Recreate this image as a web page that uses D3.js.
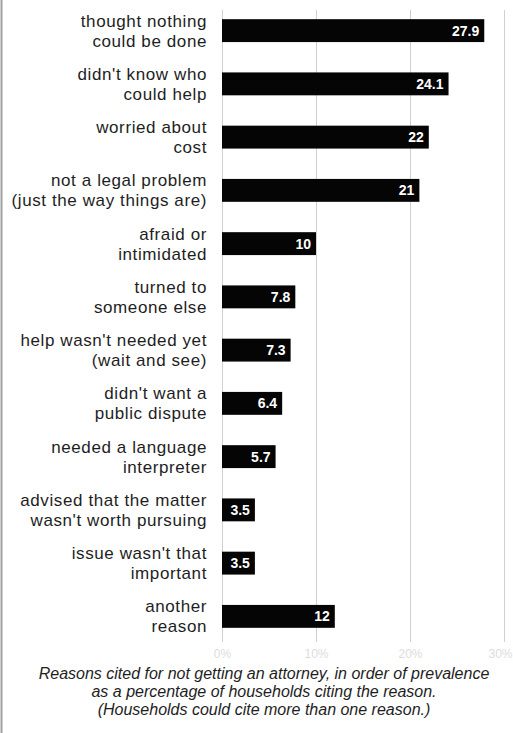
<!DOCTYPE html>
<html>
<head>
	<meta charset="UTF-8" />
	<title>reasons for not getting an attorney</title>
	<script src="https://d3js.org/d3.v7.min.js"></script>
	<style>
		body { margin: 0; background: #fff; }
	</style>
</head>
<body>
	<svg id="chart" style="width:513px; height:733px; display:block"></svg>

	<script type="text/javascript">
	// data
	var reasons = [
		["thought nothing", "could be done"],
		["didn't know who", "could help"],
		["worried about", "cost"],
		["not a legal problem", "(just the way things are)"],
		["afraid or", "intimidated"],
		["turned to", "someone else"],
		["help wasn't needed yet", "(wait and see)"],
		["didn't want a", "public dispute"],
		["needed a language", "interpreter"],
		["advised that the matter", "wasn't worth pursuing"],
		["issue wasn't that", "important"],
		["another", "reason"]
	]
	var percents = [27.9, 24.1, 22, 21, 10, 7.8, 7.3, 6.4, 5.7, 3.5, 3.5, 12]
	var valueLabels = ["27.9", "24.1", "22", "21", "10", "7.8", "7.3", "6.4", "5.7", "3.5", "3.5", "12"]
	var tickValues = [0, 10, 20, 30]
	var captionLines = [
		"Reasons cited for not getting an attorney, in order of prevalence",
		"as a  percentage of households citing the reason.",
		"(Households could cite more than one reason.)"
	]

	var rows = reasons.map((r,i)=>({key: i, lines: r, value: percents[i], label: valueLabels[i]}))

	var svg = d3.select("#chart")

	var xScale = d3.scaleLinear().domain([0,30]).range([222,504])
	var yScale = d3.scaleBand()
					.domain(rows.map(d=>d.key))
					.range([4,643])
					.paddingInner(0.57)
					.paddingOuter(0.285)

	// frame line on the left
	svg.append("line")
		.attr("x1", 1.5).attr("x2", 1.5)
		.attr("y1", 0).attr("y2", 733)
		.style("stroke", "#a0a0a0")
		.style("stroke-width", 2)

	// grid + ticks
	var xAxis = d3.axisBottom(xScale)
					.tickValues(tickValues)
					.tickSize(-632)
					.tickFormat(d=>d+"%")
	var gx = svg.append("g")
		.attr("transform", "translate(0,642)")
		.call(xAxis)
	gx.select(".domain").remove()
	gx.selectAll(".tick line").style("stroke", "#d0d0d0")
	gx.selectAll(".tick text")
		.attr("dy", "1.1em")
		.attr("text-anchor", d=>d==30 ? "end" : "middle")
		.attr("x", d=>d==30 ? 8 : 0)
		.style("fill", "#dcdcdc")
		.style("font-family", "Liberation Sans, Arial, sans-serif")
		.style("font-size", "12px")

	// bars
	var bar = svg.selectAll("g.bar")
		.data(rows)
		.enter()
		.append("g")
		.attr("class", "bar")

	bar.append("rect")
		.attr("x", xScale(0))
		.attr("y", d=>yScale(d.key))
		.attr("width", d=>xScale(d.value)-xScale(0))
		.attr("height", yScale.bandwidth())
		.style("fill", "#050505")

	bar.append("text")
		.attr("x", d=>xScale(d.value)-5)
		.attr("y", d=>yScale(d.key)+yScale.bandwidth()/2)
		.attr("dy", "0.36em")
		.attr("text-anchor", "end")
		.style("fill", "#fff")
		.style("font-family", "Liberation Sans, Arial, sans-serif")
		.style("font-weight", "bold")
		.style("font-size", "14px")
		.text(d=>d.label)

	// category labels, two lines each
	var cat = svg.selectAll("text.cat")
		.data(rows)
		.enter()
		.append("text")
		.attr("class", "cat")
		.attr("text-anchor", "end")
		.style("fill", "#1e1e1e")
		.style("font-family", "Liberation Sans, Arial, sans-serif")
		.style("font-size", "17px")
		.style("letter-spacing", "0.6px")

	cat.selectAll("tspan")
		.data(d=>d.lines.map((l,j)=>({l: l, j: j, c: yScale(d.key)+yScale.bandwidth()/2})))
		.enter()
		.append("tspan")
		.attr("x", 207)
		.attr("y", d=>d.c - 4 + d.j*20)
		.text(d=>d.l)

	// caption
	svg.append("text")
		.attr("text-anchor", "middle")
		.style("fill", "#1e1e1e")
		.style("font-family", "Liberation Sans, Arial, sans-serif")
		.style("font-style", "italic")
		.style("font-size", "16px")
		.selectAll("tspan")
		.data(captionLines)
		.enter()
		.append("tspan")
		.attr("x", 264)
		.attr("y", (d,i)=>679 + i*18)
		.text(d=>d)
	</script>
</body>
</html>
